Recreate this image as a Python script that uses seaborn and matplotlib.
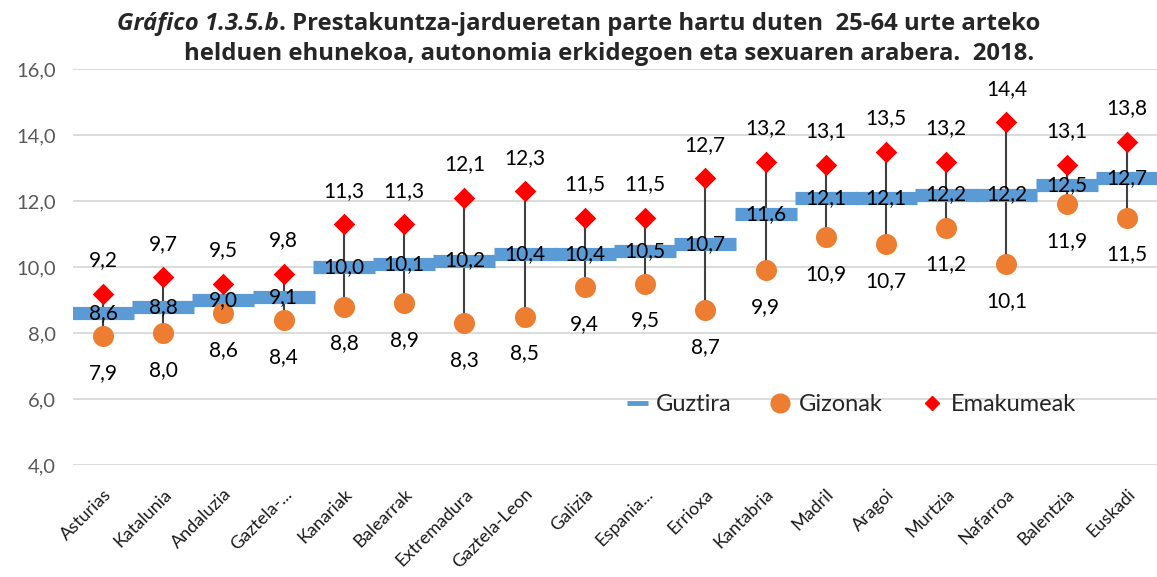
import numpy as np
import pandas as pd
import matplotlib
matplotlib.use("Agg")
import matplotlib.pyplot as plt
import seaborn as sns
from matplotlib.lines import Line2D

categories = ["Asturias", "Katalunia", "Andaluzia", "Gaztela-...", "Kanariak", "Balearrak",
              "Extremadura", "Gaztela-Leon", "Galizia", "Espania...", "Errioxa", "Kantabria",
              "Madril", "Aragoi", "Murtzia", "Nafarroa", "Balentzia", "Euskadi"]
guztira = [8.6, 8.8, 9.0, 9.1, 10.0, 10.1, 10.2, 10.4, 10.4, 10.5, 10.7, 11.6, 12.1, 12.1, 12.2, 12.2, 12.5, 12.7]
gizonak = [7.9, 8.0, 8.6, 8.4, 8.8, 8.9, 8.3, 8.5, 9.4, 9.5, 8.7, 9.9, 10.9, 10.7, 11.2, 10.1, 11.9, 11.5]
emakumeak = [9.2, 9.7, 9.5, 9.8, 11.3, 11.3, 12.1, 12.3, 11.5, 11.5, 12.7, 13.2, 13.1, 13.5, 13.2, 14.4, 13.1, 13.8]
series_names = ["Guztira", "Gizonak", "Emakumeak"]
yticks = [4, 6, 8, 10, 12, 14, 16]

sns.set_theme(style="white")
plt.rcParams["font.family"] = ["Lato", "DejaVu Sans"]

df = pd.DataFrame({"cat": categories, "Guztira": guztira, "Gizonak": gizonak, "Emakumeak": emakumeak})
x = np.arange(len(categories))

fig = plt.figure(figsize=(11.57, 5.77), dpi=100)
ax = fig.add_axes([0.063, 0.194, 0.937, 0.686])

BLUE = "#5B9BD5"
ORANGE = "#ED7D31"
RED = "#FF0000"

# high-low lines
lo = np.minimum(np.minimum(df["Guztira"], df["Gizonak"]), df["Emakumeak"])
hi = np.maximum(np.maximum(df["Guztira"], df["Gizonak"]), df["Emakumeak"])
ax.vlines(x, lo, hi, color="#404040", lw=1.5, zorder=2)

sns.scatterplot(data=df, x="cat", y="Guztira", marker="_", s=44**2, linewidth=9.5,
                color=BLUE, ax=ax, zorder=3, legend=False)
sns.scatterplot(data=df, x="cat", y="Gizonak", marker="o", s=21**2 * 0.52, color=ORANGE,
                edgecolor=ORANGE, linewidth=0, ax=ax, zorder=4, legend=False)
sns.scatterplot(data=df, x="cat", y="Emakumeak", marker="D", s=11**2, color=RED,
                edgecolor=RED, linewidth=0, ax=ax, zorder=5, legend=False)

def fmt(v):
    return f"{v:.1f}".replace(".", ",")

LFS = 15
for i in range(len(categories)):
    ax.annotate(fmt(guztira[i]), (x[i], guztira[i]), xytext=(0, 0), textcoords="offset points",
                ha="center", va="center", fontsize=LFS, color="black", zorder=6)
    ax.annotate(fmt(gizonak[i]), (x[i], gizonak[i]), xytext=(0, -26.5), textcoords="offset points",
                ha="center", va="center", fontsize=LFS, color="black", zorder=6)
    ax.annotate(fmt(emakumeak[i]), (x[i], emakumeak[i]), xytext=(0, 24), textcoords="offset points",
                ha="center", va="center", fontsize=LFS, color="black", zorder=6)

ax.set_xlim(-0.5, len(categories) - 0.5)
ax.set_ylim(4, 16)
ax.set_yticks(yticks)
ax.set_yticklabels([fmt(v) for v in yticks], fontsize=14.5, color="#595959")
ax.set_xticks(x)
ax.set_xticklabels(categories, rotation=45, ha="right", rotation_mode="anchor",
                   fontsize=13, color="#1a1a1a")
ax.tick_params(axis="both", length=0)
ax.tick_params(axis="y", pad=12)
ax.tick_params(axis="x", pad=15)
ax.set_xlabel("")
ax.set_ylabel("")
ax.yaxis.grid(True, color="#D9D9D9", lw=1.3)
ax.set_axisbelow(True)
for s in ax.spines.values():
    s.set_visible(False)

handles = [
    Line2D([], [], color=BLUE, lw=3.5, solid_capstyle="butt"),
    Line2D([], [], marker="o", color=ORANGE, lw=0, markersize=13.5),
    Line2D([], [], marker="D", color=RED, lw=0, markersize=7.5),
]
ax.legend(handles, series_names, loc="center", bbox_to_anchor=(0.718, 0.152), ncol=3,
          frameon=False, fontsize=17, handlelength=0.9, columnspacing=1.6, handletextpad=0.35)

# title
TF = ["Open Sans", "DejaVu Sans"]
fs = 15.5
fig.canvas.draw()
r = fig.canvas.get_renderer()
t1a = fig.text(0, 0, "Gráfico 1.3.5.b", fontsize=fs, fontweight="bold", fontstyle="italic", family=TF)
t1b = fig.text(0, 0, ". Prestakuntza-jardueretan parte hartu duten  25-64 urte arteko",
               fontsize=fs, fontweight="bold", family=TF)
wa = t1a.get_window_extent(r).width
wb = t1b.get_window_extent(r).width
scale = 922 / (wa + wb)
fs2 = fs * scale
t1a.set_fontsize(fs2)
t1b.set_fontsize(fs2)
wa = t1a.get_window_extent(r).width
wb = t1b.get_window_extent(r).width
W = fig.bbox.width
x0 = (579 - (wa + wb) / 2) / W
y1 = 1 - 30 / 577
t1a.set_position((x0, y1))
t1b.set_position((x0 + wa / W, y1))
fig.text(609 / W, 1 - 60 / 577, "helduen ehunekoa, autonomia erkidegoen eta sexuaren arabera.  2018.",
         fontsize=fs2, fontweight="bold", ha="center", family=TF)

fig.savefig("out.png", dpi=100)
